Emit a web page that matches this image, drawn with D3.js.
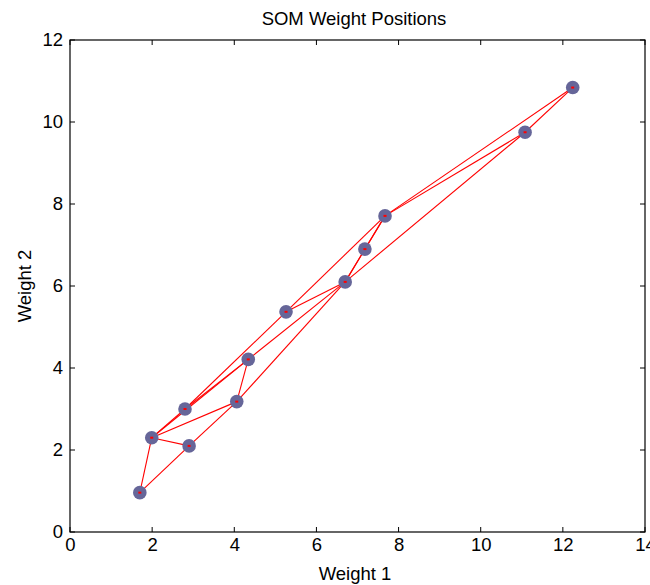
<!DOCTYPE html>
<html>
<head>
<meta charset="utf-8">
<script src="https://cdn.jsdelivr.net/npm/d3@7"></script>
<style>
  html, body { margin: 0; padding: 0; background: #fff; overflow: hidden; }
  text { font-family: "Liberation Sans", Arial, sans-serif; fill: #000; }
</style>
</head>
<body>
<svg id="chart" width="650" height="585"></svg>
<script>
// Neuron weight positions (Weight 1, Weight 2)
const weight1 = [1.70, 1.99, 2.90, 2.80, 4.06, 4.34, 5.26, 6.70, 7.18, 7.67, 11.08, 12.24];
const weight2 = [0.96, 2.30, 2.10, 3.00, 3.18, 4.21, 5.37, 6.10, 6.90, 7.71, 9.75, 10.84];
// Neighbour links (neuron index pairs)
const linkFrom = [0, 0, 1, 2, 1, 4, 4, 1, 5, 1, 3, 6, 7, 8, 7, 7, 9, 9, 10, 6, 3];
const linkTo   = [1, 2, 2, 4, 4, 5, 7, 5, 7, 3, 6, 9, 8, 9, 9, 10, 10, 11, 11, 7, 5];
const xTicks = [0, 2, 4, 6, 8, 10, 12, 14];
const yTicks = [0, 2, 4, 6, 8, 10, 12];
const titleText = "SOM Weight Positions";
const xLabel = "Weight 1";
const yLabel = "Weight 2";

(function () {
const svg = d3.select("#chart");
const mLeft = 70, mRight = 645, mTop = 40, mBottom = 532;
const x = d3.scaleLinear().domain([0, 14]).range([mLeft, mRight]);
const y = d3.scaleLinear().domain([0, 12]).range([mBottom, mTop]);

const tickLen = 5;
const fontSize = 18.5;

// Links
const links = linkFrom.map((f, i) => ({ a: f, b: linkTo[i] }));
svg.append("g").selectAll("line").data(links).join("line")
  .attr("x1", d => x(weight1[d.a])).attr("y1", d => y(weight2[d.a]))
  .attr("x2", d => x(weight1[d.b])).attr("y2", d => y(weight2[d.b]))
  .attr("stroke", "#ff0000").attr("stroke-width", 1.1);

// Neurons
const nodes = weight1.map((v, i) => ({ x: v, y: weight2[i] }));
svg.append("g").selectAll("circle").data(nodes).join("circle")
  .attr("cx", d => x(d.x)).attr("cy", d => y(d.y)).attr("r", 6.8)
  .attr("fill", "#666699");
svg.append("g").selectAll("rect").data(nodes).join("rect")
  .attr("x", d => x(d.x) - 1.5).attr("y", d => y(d.y) - 1)
  .attr("width", 3).attr("height", 2)
  .attr("fill", "#ff0000");

// Axes (ticks inside, MATLAB-style box)
const xAxisB = d3.axisBottom(x).tickValues(xTicks).tickSize(0).tickPadding(0).tickFormat(d3.format("d"));
const gB = svg.append("g").attr("transform", `translate(0,${mBottom})`).call(xAxisB);
gB.select(".domain").remove();
gB.selectAll("text").attr("dy", "1.05em").style("font-size", fontSize + "px");

const yAxisL = d3.axisLeft(y).tickValues(yTicks).tickSize(0).tickPadding(7).tickFormat(d3.format("d"));
const gL = svg.append("g").attr("transform", `translate(${mLeft},0)`).call(yAxisL);
gL.select(".domain").remove();
gL.selectAll("text").style("font-size", fontSize + "px");

// Tick marks inside on all four sides
const ticksG = svg.append("g").attr("stroke", "#000").attr("stroke-width", 1);
xTicks.forEach(t => {
  ticksG.append("line").attr("x1", x(t)).attr("x2", x(t)).attr("y1", mBottom).attr("y2", mBottom - tickLen);
  ticksG.append("line").attr("x1", x(t)).attr("x2", x(t)).attr("y1", mTop).attr("y2", mTop + tickLen);
});
yTicks.forEach(t => {
  ticksG.append("line").attr("x1", mLeft).attr("x2", mLeft + tickLen).attr("y1", y(t)).attr("y2", y(t));
  ticksG.append("line").attr("x1", mRight).attr("x2", mRight - tickLen).attr("y1", y(t)).attr("y2", y(t));
});

// Box
svg.append("rect").attr("x", mLeft).attr("y", mTop)
  .attr("width", mRight - mLeft).attr("height", mBottom - mTop)
  .attr("fill", "none").attr("stroke", "#000").attr("stroke-width", 1.2);

// Title and labels
svg.append("text").attr("x", 354).attr("y", 25)
  .attr("text-anchor", "middle").style("font-size", fontSize + "px").text(titleText);
svg.append("text").attr("x", 355).attr("y", 580)
  .attr("text-anchor", "middle").style("font-size", fontSize + "px").text(xLabel);
svg.append("text").attr("transform", `translate(31,${(mTop + mBottom) / 2}) rotate(-90)`)
  .attr("text-anchor", "middle").style("font-size", fontSize + "px").text(yLabel);
})();
</script>
</body>
</html>
